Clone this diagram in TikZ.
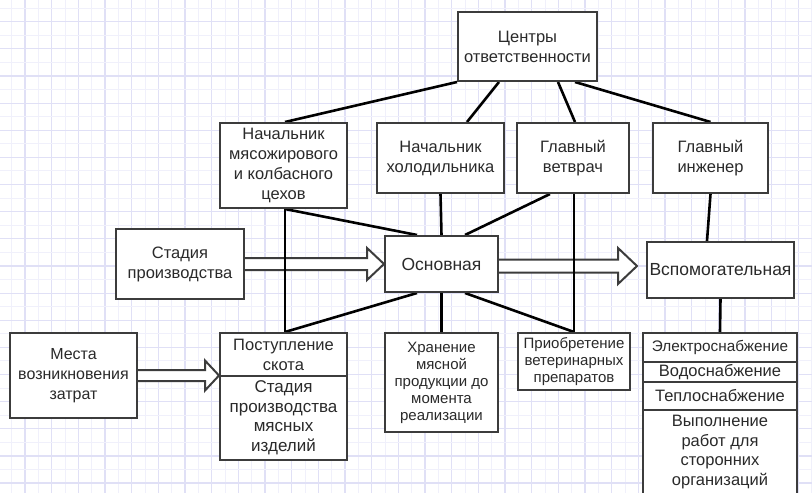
\documentclass[tikz,border=0pt]{standalone}
\usepackage{fontspec}
\setmainfont{Liberation Sans}
\usetikzlibrary{calc}
\definecolor{gridminor}{HTML}{F0F0FB}
\definecolor{gridmajor}{HTML}{E0E0F6}
\definecolor{boxline}{HTML}{3C3C3C}
\definecolor{txt}{HTML}{2A2A2A}
\pgfdeclarelayer{gridlayer}
\pgfdeclarelayer{links}
\pgfsetlayers{gridlayer,links,main}
\tikzset{
  box/.style={draw=boxline, line width=2pt, fill=white, inner sep=0pt, align=center, text=txt,
    font=\fontsize{16.5}{20}\selectfont},
  bigbox/.style={box, font=\fontsize{17.5}{20}\selectfont},
  smallbox/.style={box, font=\fontsize{15}{17}\selectfont},
  conn/.style={line width=2.6pt, black},
  harrowst/.style={draw=boxline, line width=2pt, fill=white, line join=miter},
}
\newcommand{\harrowdraw}[5]{%
  \draw[harrowst] let \p1=(#1), \p2=(#2) in
   (\x1,\y1+#3) -- (\x2-#5,\y1+#3) -- (\x2-#5,\y1+#4) -- (\x2,\y1) --
   (\x2-#5,\y1-#4) -- (\x2-#5,\y1-#3) -- (\x1,\y1-#3);}
\begin{document}
\begin{tikzpicture}[x=1pt,y=-1pt]
\useasboundingbox (0,0) rectangle (812,493);
\clip (0,0) rectangle (812,493);
\begin{pgfonlayer}{gridlayer}
\fill[white] (0,0) rectangle (812,493);
\foreach \k in {0,...,30} {
  \draw[gridminor, line width=1pt] ({11.67+26.67*\k},0) -- ++(0,493);
  \draw[gridmajor, line width=1.2pt] ({25+26.67*\k},0) -- ++(0,493);
}
\foreach \k in {0,...,18} {
  \draw[gridminor, line width=1pt] (0,{8.1+27.14*\k}) -- ++(812,0);
  \draw[gridmajor, line width=1.2pt] (0,{21.7+27.14*\k}) -- ++(812,0);
}
\end{pgfonlayer}

% nodes
\node[box, minimum width=139, minimum height=69] (C) at (527.5,46.5) {Центры\\ответственности};
\node[box, minimum width=127, minimum height=85] (N1) at (283.5,165.5) {Начальник\\мясожирового\\и колбасного\\цехов};
\node[box, minimum width=127, minimum height=70] (N2) at (440.5,158) {Начальник\\холодильника};
\node[box, minimum width=112, minimum height=70] (N3) at (573,158) {Главный\\ветврач};
\node[box, minimum width=115, minimum height=70] (N4) at (710.5,158) {Главный\\инженер};
\node[box, minimum width=128, minimum height=70] (S) at (180,264) {Стадия\\производства};
\node[bigbox, minimum width=113, minimum height=56] (O) at (441.5,264) {Основная};
\node[bigbox, minimum width=147, minimum height=56] (V) at (720.5,270) {Вспомогательная};
\node[box, font=\fontsize{16}{20}\selectfont, minimum width=127, minimum height=85] (M) at (73.5,375.5) {Места\\возникновения\\затрат};
\node[box, minimum width=127, minimum height=43] (P1) at (283.5,354.5) {Поступление\\скота};
\node[box, font=\fontsize{17}{19.5}\selectfont, minimum width=127, minimum height=84] (P2) at (283.5,418) {Стадия\\производства\\мясных\\изделий};
\node[smallbox, minimum width=113, minimum height=99] (H) at (441.5,382.5) {Хранение\\мясной\\продукции до\\момента\\реализации};
\node[smallbox, minimum width=112, minimum height=57] (A) at (574,361.5) {Приобретение\\ветеринарных\\препаратов};
\node[smallbox, font=\fontsize{15.3}{17}\selectfont, minimum width=154, minimum height=29] (E1) at (720,347.5) {Электроснабжение};
\node[box, minimum width=154, minimum height=20] (E2) at (720,372) {Водоснабжение};
\node[box, minimum width=154, minimum height=28] (E3) at (720,396) {Теплоснабжение};
\node[box, font=\fontsize{16.5}{19.5}\selectfont, minimum width=154, minimum height=84] (E4) at (720,452) {Выполнение\\работ для\\сторонних\\организаций};

\begin{pgfonlayer}{links}
% hollow arrows
\harrowdraw{S.east}{O.west |- S.east}{6pt}{16pt}{17pt}
\harrowdraw{$(O.east)+(0,2)$}{$(V.west |- O.east)+(-9,2)$}{6.5pt}{18pt}{19pt}
\harrowdraw{M.east}{P1.west |- M.east}{5.5pt}{15pt}{14pt}
% connectors
\draw[conn] (C.south west) -- ($(N1.north)+(1.5,0)$);
\draw[conn] ($(C.south)+(-28.5,0)$) -- ($(N2.north)+(26.5,0)$);
\draw[conn] ($(C.south)+(30.5,0)$) -- ($(N3.north)+(2,0)$);
\draw[conn] ($(C.south)+(47.5,0)$) -- (N4.north);
\draw[conn] ($(N1.south)+(1.5,0)$) -- ($(P1.north)+(1.5,0)$);
\draw[conn] ($(N1.south)+(1.5,0)$) -- ($(O.north)+(-24.5,0)$);
\draw[conn] (N2.south) -- (O.north);
\draw[conn] (O.south) -- (H.north);
\draw[conn] ($(N3.south)+(-23,0)$) -- ($(O.north)+(23.5,0)$);
\draw[conn] ($(N3.south)+(1,0)$) -- (A.north);
\draw[conn] ($(O.south)+(-24.5,0)$) -- ($(P1.north)+(1.5,0)$);
\draw[conn] ($(O.south)+(23.5,0)$) -- (A.north);
\draw[conn] (N4.south) -- ($(V.north)+(-13.5,0)$);
\draw[conn] (V.south) -- (E1.north);
\end{pgfonlayer}
\end{tikzpicture}
\end{document}
